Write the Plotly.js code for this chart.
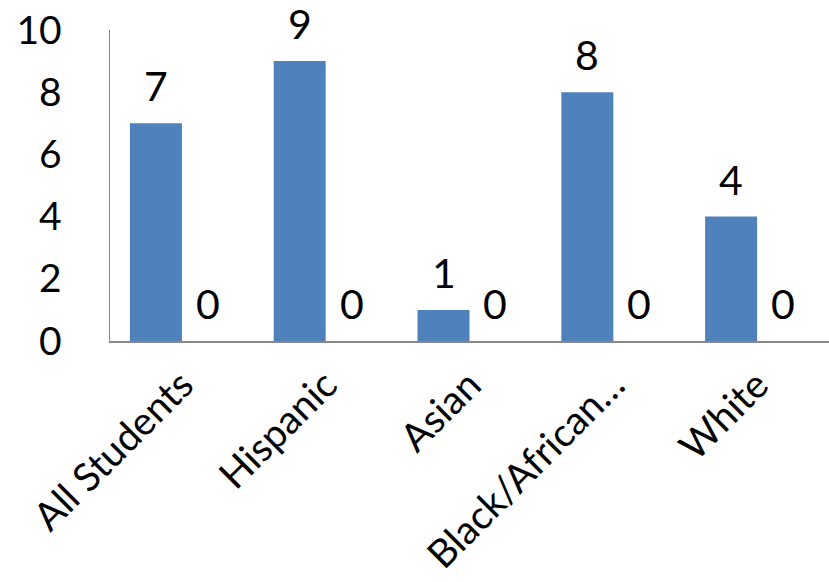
<!DOCTYPE html>
<html>
<head>
<meta charset="utf-8">
<script src="https://cdn.plot.ly/plotly-3.0.1.min.js"></script>
<style>html,body{margin:0;padding:0;background:#fff;}#chart{width:829px;height:582px;}</style>
</head>
<body>
<div id="chart"></div>
<script>
const categories = ["All Students", "Hispanic", "Asian", "Black/African…", "White"];
const seriesA = [7, 9, 1, 8, 4];
const seriesB = [0, 0, 0, 0, 0];
const yTicks = [0, 2, 4, 6, 8, 10];

const FONT = "Lato, 'Open Sans', sans-serif";
const FS_Y = 39;
const FS_X = 39;
const FS_LBL = 41;
const BARGAP = 0.277;
const half = (1 - BARGAP) / 4;

const annotations = [];
[[seriesA, -half], [seriesB, half]].forEach(([vals, off]) => {
  vals.forEach((v, i) => {
    annotations.push({
      x: i + off, y: v, xref: 'x', yref: 'y',
      text: String(v), showarrow: false,
      yanchor: 'bottom', yshift: 11,
      font: {family: FONT, size: FS_LBL, color: '#000'}
    });
  });
});

const data = [
  {type: 'bar', x: categories, y: seriesA, marker: {color: '#4F81BD'}, hoverinfo: 'none'},
  {type: 'bar', x: categories, y: seriesB, marker: {color: '#C0504D'}, hoverinfo: 'none'}
];

const layout = {
  width: 829, height: 582,
  margin: {l: 110, r: 0, t: 30, b: 241},
  barmode: 'group', bargap: BARGAP, bargroupgap: 0,
  showlegend: false,
  paper_bgcolor: '#fff', plot_bgcolor: '#fff',
  font: {family: FONT, size: FS_Y, color: '#000'},
  xaxis: {
    type: 'category', tickangle: -45,
    showline: true, linecolor: '#888', linewidth: 1.5,
    showgrid: false, ticks: '', ticklabelstandoff: 4,
    tickfont: {family: FONT, size: FS_X, color: '#000'}
  },
  yaxis: {
    range: [0, 10], tickvals: yTicks, ticktext: yTicks.map(String),
    showline: true, linecolor: '#888', linewidth: 1.5,
    showgrid: false, zeroline: false, ticks: '', ticklabelstandoff: 39,
    tickfont: {family: FONT, size: FS_Y, color: '#000'}
  },
  annotations: annotations
};

Plotly.newPlot('chart', data, layout, {displayModeBar: false, staticPlot: true});
</script>
</body>
</html>
